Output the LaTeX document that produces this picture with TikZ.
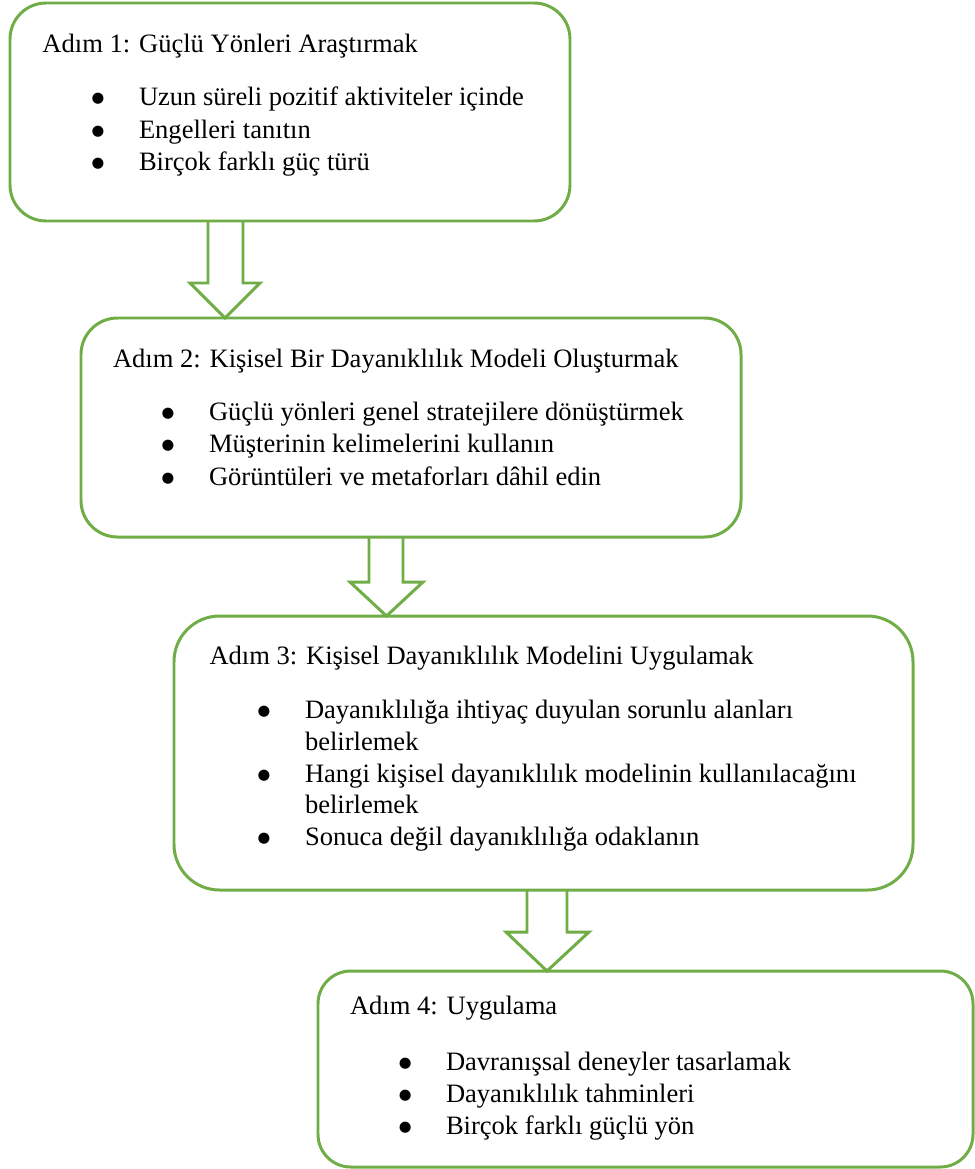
\documentclass[tikz,border=0pt]{standalone}
\usepackage{fontspec}
\setmainfont{Liberation Serif}
\newfontfamily\dvsans{DejaVu Sans}
\usetikzlibrary{calc}
\definecolor{boxgreen}{HTML}{70AD47}
\newcommand{\bigbul}{\llap{\raisebox{1.2pt}{\dvsans\fontsize{6.6}{7}\selectfont ●}\hspace{15.6pt}}}
\begin{document}
\begin{tikzpicture}[x=0.452pt,y=-0.452pt,
  box/.style={draw=boxgreen,line width=1.35pt,inner sep=0pt,outer sep=0pt},
  blk/.style={draw=boxgreen,line width=1.35pt,fill=white,line join=miter},
  txt/.style={anchor=base west,inner sep=0pt,outer sep=0pt,font=\fontsize{12}{14}\selectfont},
  bul/.style={txt,execute at begin node={\bigbul}}]
\useasboundingbox (0,0) rectangle (974,1169);
% boxes as nodes (drawn empty)
\node[box,draw=none,minimum width=560*0.452pt,minimum height=218*0.452pt] (b1) at (290,112) {};
\node[box,draw=none,minimum width=660*0.452pt,minimum height=219*0.452pt] (b2) at (411,427.5) {};
\node[box,draw=none,minimum width=739*0.452pt,minimum height=274*0.452pt] (b3) at (543.5,753) {};
\node[box,draw=none,minimum width=655*0.452pt,minimum height=196*0.452pt] (b4) at (645.5,1069) {};
% block arrows
\draw[blk] (b1.south -| 208,0) -- (208,283) -- (190,283) -- (b2.north -| 225,0) -- (260,283) -- (243,283) -- (b1.south -| 243,0);
\draw[blk] (b2.south -| 369,0) -- (369,582) -- (350,582) -- (b3.north -| 386.5,0) -- (423,582) -- (403,582) -- (b2.south -| 403,0);
\draw[blk] (b3.south -| 527,0) -- (527,932) -- (506,932) -- (b4.north -| 547,0) -- (589,932) -- (567,932) -- (b3.south -| 567,0);
% box outlines
\draw[box,rounded corners=36*0.452pt] (b1.north west) rectangle (b1.south east);
\draw[box,rounded corners=36.5*0.452pt] (b2.north west) rectangle (b2.south east);
\draw[box,rounded corners=45.6*0.452pt] (b3.north west) rectangle (b3.south east);
\draw[box,rounded corners=32.7*0.452pt] (b4.north west) rectangle (b4.south east);
% box 1
\node[txt] (t1) at (42.5,52) {Adım 1: Güçlü Yönleri Araştırmak};
\node[bul] (t1a) at (139,105) {Uzun süreli pozitif aktiviteler içinde};
\node[bul] (t1b) at (139,138) {Engelleri tanıtın};
\node[bul] (t1c) at (139,170) {Birçok farklı güç türü};
% box 2
\node[txt] (t2) at (113,367) {Adım 2: Kişisel Bir Dayanıklılık Modeli Oluşturmak};
\node[bul] (t2a) at (209,420) {Güçlü yönleri genel stratejilere dönüştürmek};
\node[bul] (t2b) at (209,452) {Müşterinin kelimelerini kullanın};
\node[bul] (t2c) at (209,485) {Görüntüleri ve metaforları dâhil edin};
% box 3
\node[txt] (t3) at (209.5,664) {Adım 3: Kişisel Dayanıklılık Modelini Uygulamak};
\node[bul] (t3a) at (305,718) {Dayanıklılığa ihtiyaç duyulan sorunlu alanları};
\node[txt] (t3a2) at (305,750) {belirlemek};
\node[bul] (t3b) at (305,782) {Hangi kişisel dayanıklılık modelinin kullanılacağını};
\node[txt] (t3b2) at (305,813) {belirlemek};
\node[bul] (t3c) at (305,845) {Sonuca değil dayanıklılığa odaklanın};
% box 4
\node[txt] (t4) at (350,1014) {Adım 4: Uygulama};
\node[bul] (t4a) at (446,1070) {Davranışsal deneyler tasarlamak};
\node[bul] (t4b) at (446,1102) {Dayanıklılık tahminleri};
\node[bul] (t4c) at (446,1134) {Birçok farklı güçlü yön};
\end{tikzpicture}
\end{document}
